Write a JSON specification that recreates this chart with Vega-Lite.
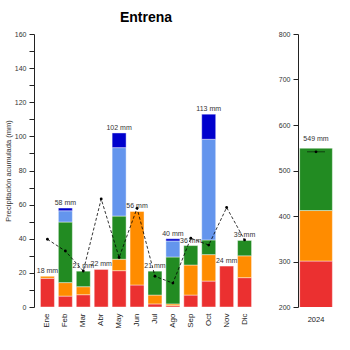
{
  "$schema": "https://vega.github.io/schema/vega-lite/v6.json",
  "padding": {"left": 4, "top": 11, "right": 0, "bottom": 0},
  "background": "white",
  "config": {
    "view": {"stroke": null},
    "font": "Liberation Sans",
    "axis": {"labelFont": "Liberation Sans", "titleFont": "Liberation Sans", "labelColor": "#333", "titleColor": "#333", "domainColor": "#222", "tickColor": "#222", "grid": false, "labelOverlap": false}
  },
  "spacing": 40,
  "bounds": "flush",
  "datasets": {
    "barras": [
      {"mes": "Ene", "cat": "Rojo", "ord": 1, "valor": 16.8},
      {"mes": "Ene", "cat": "Naranja", "ord": 2, "valor": 1.2},
      {"mes": "Feb", "cat": "Rojo", "ord": 1, "valor": 6.4},
      {"mes": "Feb", "cat": "Naranja", "ord": 2, "valor": 7.9},
      {"mes": "Feb", "cat": "Verde", "ord": 3, "valor": 35.5},
      {"mes": "Feb", "cat": "Azul claro", "ord": 4, "valor": 6.6},
      {"mes": "Feb", "cat": "Azul", "ord": 5, "valor": 1.6},
      {"mes": "Mar", "cat": "Rojo", "ord": 1, "valor": 7.2},
      {"mes": "Mar", "cat": "Naranja", "ord": 2, "valor": 4.7},
      {"mes": "Mar", "cat": "Verde", "ord": 3, "valor": 9.1},
      {"mes": "Abr", "cat": "Rojo", "ord": 1, "valor": 22},
      {"mes": "May", "cat": "Rojo", "ord": 1, "valor": 21.3},
      {"mes": "May", "cat": "Naranja", "ord": 2, "valor": 6.7},
      {"mes": "May", "cat": "Verde", "ord": 3, "valor": 25.3},
      {"mes": "May", "cat": "Azul claro", "ord": 4, "valor": 40.1},
      {"mes": "May", "cat": "Azul", "ord": 5, "valor": 8.6},
      {"mes": "Jun", "cat": "Rojo", "ord": 1, "valor": 12.9},
      {"mes": "Jun", "cat": "Naranja", "ord": 2, "valor": 43.1},
      {"mes": "Jul", "cat": "Rojo", "ord": 1, "valor": 1.8},
      {"mes": "Jul", "cat": "Naranja", "ord": 2, "valor": 5.2},
      {"mes": "Jul", "cat": "Verde", "ord": 3, "valor": 14.0},
      {"mes": "Ago", "cat": "Rojo", "ord": 1, "valor": 0.8},
      {"mes": "Ago", "cat": "Naranja", "ord": 2, "valor": 1.0},
      {"mes": "Ago", "cat": "Verde", "ord": 3, "valor": 27.5},
      {"mes": "Ago", "cat": "Azul claro", "ord": 4, "valor": 9.4},
      {"mes": "Ago", "cat": "Azul", "ord": 5, "valor": 1.3},
      {"mes": "Sep", "cat": "Rojo", "ord": 1, "valor": 7.0},
      {"mes": "Sep", "cat": "Naranja", "ord": 2, "valor": 17.6},
      {"mes": "Sep", "cat": "Verde", "ord": 3, "valor": 11.4},
      {"mes": "Oct", "cat": "Rojo", "ord": 1, "valor": 15.2},
      {"mes": "Oct", "cat": "Naranja", "ord": 2, "valor": 15.5},
      {"mes": "Oct", "cat": "Verde", "ord": 3, "valor": 8.6},
      {"mes": "Oct", "cat": "Azul claro", "ord": 4, "valor": 59.0},
      {"mes": "Oct", "cat": "Azul", "ord": 5, "valor": 14.7},
      {"mes": "Nov", "cat": "Rojo", "ord": 1, "valor": 24},
      {"mes": "Dic", "cat": "Rojo", "ord": 1, "valor": 17.2},
      {"mes": "Dic", "cat": "Naranja", "ord": 2, "valor": 12.8},
      {"mes": "Dic", "cat": "Verde", "ord": 3, "valor": 9.0}
    ],
    "totales": [
      {"mes": "Ene", "total": 18, "etiqueta": "18 mm", "normal": 39.7},
      {"mes": "Feb", "total": 58, "etiqueta": "58 mm", "normal": 32.8},
      {"mes": "Mar", "total": 21, "etiqueta": "21 mm", "normal": 21.1},
      {"mes": "Abr", "total": 22, "etiqueta": "22 mm", "normal": 63.3},
      {"mes": "May", "total": 102, "etiqueta": "102 mm", "normal": 29},
      {"mes": "Jun", "total": 56, "etiqueta": "56 mm", "normal": 57.9},
      {"mes": "Jul", "total": 21, "etiqueta": "21 mm", "normal": 18},
      {"mes": "Ago", "total": 40, "etiqueta": "40 mm", "normal": 14},
      {"mes": "Sep", "total": 36, "etiqueta": "36 mm", "normal": 40.3},
      {"mes": "Oct", "total": 113, "etiqueta": "113 mm", "normal": 36.3},
      {"mes": "Nov", "total": 24, "etiqueta": "24 mm", "normal": 58.3},
      {"mes": "Dic", "total": 39, "etiqueta": "39 mm", "normal": 39.3}
    ],
    "anual": [
      {"anio": "2024", "cat": "Rojo", "ord": 1, "valor": 301},
      {"anio": "2024", "cat": "Naranja", "ord": 2, "valor": 111},
      {"anio": "2024", "cat": "Verde", "ord": 3, "valor": 137}
    ],
    "anualTotal": [
      {"anio": "2024", "total": 549, "etiqueta": "549 mm", "normal": 541}
    ]
  },
  "hconcat": [
    {
      "width": 224,
      "height": 273,
      "title": {"text": "Entrena", "fontSize": 14, "fontWeight": "bold", "font": "Liberation Sans", "color": "#000", "anchor": "middle", "offset": 5},
      "resolve": {"axis": {"y": "independent"}},
      "layer": [
        {
          "data": {"name": "barras"},
          "mark": {"type": "bar", "stroke": "#ffffff", "strokeWidth": 0.6, "strokeOpacity": 0.7},
          "encoding": {
            "x": {"field": "mes", "type": "nominal", "sort": ["Ene","Feb","Mar","Abr","May","Jun","Jul","Ago","Sep","Oct","Nov","Dic"],
                  "scale": {"paddingInner": 0.22, "paddingOuter": 0.36},
                  "axis": {"title": null, "labelAngle": 270, "domain": false, "ticks": false, "labelPadding": 6, "labelFontSize": 8, "labelColor": "#222"}},
            "y": {"field": "valor", "type": "quantitative", "aggregate": "sum", "stack": "zero",
                  "scale": {"domain": [0, 160], "nice": false},
                  "axis": {"orient": "left", "title": "Precipitación acumulada (mm)", "titleFontSize": 7.5, "titleFontWeight": "normal", "titlePadding": 2,
                           "values": [0,20,40,60,80,100,120,140,160], "labelOverlap": false,
                           "labelFontSize": 7, "tickSize": 5, "labelPadding": 3}},
            "color": {"field": "cat", "type": "nominal", "legend": null,
                      "scale": {"domain": ["Rojo","Naranja","Verde","Azul claro","Azul"], "range": ["#EB3030","#FF8C00","#228B22","#6495ED","#0000CD"]}},
            "order": {"field": "ord", "type": "quantitative"}
          }
        },
        {
          "data": {"name": "totales"},
          "mark": {"type": "line", "color": "#000", "strokeDash": [3, 2], "strokeWidth": 0.8, "point": {"filled": true, "color": "#000", "size": 8}},
          "encoding": {
            "x": {"field": "mes", "type": "nominal", "sort": ["Ene","Feb","Mar","Abr","May","Jun","Jul","Ago","Sep","Oct","Nov","Dic"]},
            "y": {"field": "normal", "type": "quantitative",
                  "axis": {"orient": "left", "title": null, "labels": false, "domain": false, "tickSize": 5,
                           "values": [10,30,50,70,90,110,130,150]}}
          }
        },
        {
          "data": {"name": "totales"},
          "mark": {"type": "text", "baseline": "bottom", "dy": -2, "fontSize": 7, "color": "#333"},
          "encoding": {
            "x": {"field": "mes", "type": "nominal", "sort": ["Ene","Feb","Mar","Abr","May","Jun","Jul","Ago","Sep","Oct","Nov","Dic"]},
            "y": {"field": "total", "type": "quantitative", "axis": null},
            "text": {"field": "etiqueta"}
          }
        }
      ]
    },
    {
      "width": 36,
      "height": 273,
      "layer": [
        {
          "data": {"name": "anual"},
          "mark": {"type": "bar", "clip": true, "stroke": "#ffffff", "strokeWidth": 0.6, "strokeOpacity": 0.7},
          "encoding": {
            "x": {"field": "anio", "type": "nominal", "scale": {"paddingInner": 0, "paddingOuter": 0.05},
                  "axis": {"title": null, "labelAngle": 0, "domain": false, "ticks": false, "labelPadding": 8, "labelFontSize": 7.5, "labelColor": "#222"}},
            "y": {"field": "valor", "type": "quantitative", "aggregate": "sum", "stack": "zero",
                  "scale": {"domain": [200, 800], "nice": false, "zero": false},
                  "axis": {"title": null, "values": [200,300,400,500,600,700,800], "labelFontSize": 7, "tickSize": 5, "labelPadding": 3}},
            "color": {"field": "cat", "type": "nominal", "legend": null,
                      "scale": {"domain": ["Rojo","Naranja","Verde","Azul claro","Azul"], "range": ["#EB3030","#FF8C00","#228B22","#6495ED","#0000CD"]}},
            "order": {"field": "ord", "type": "quantitative"}
          }
        },
        {
          "data": {"name": "anualTotal"},
          "mark": {"type": "tick", "color": "#000", "strokeDash": [3, 2], "thickness": 0.8, "size": 18, "opacity": 0.7},
          "encoding": {
            "x": {"field": "anio", "type": "nominal"},
            "y": {"field": "normal", "type": "quantitative"}
          }
        },
        {
          "data": {"name": "anualTotal"},
          "mark": {"type": "point", "filled": true, "color": "#000", "size": 8, "opacity": 1},
          "encoding": {
            "x": {"field": "anio", "type": "nominal"},
            "y": {"field": "normal", "type": "quantitative"}
          }
        },
        {
          "data": {"name": "anualTotal"},
          "mark": {"type": "text", "baseline": "bottom", "dy": -6, "fontSize": 7, "color": "#333"},
          "encoding": {
            "x": {"field": "anio", "type": "nominal"},
            "y": {"field": "total", "type": "quantitative"},
            "text": {"field": "etiqueta"}
          }
        }
      ]
    }
  ]
}
